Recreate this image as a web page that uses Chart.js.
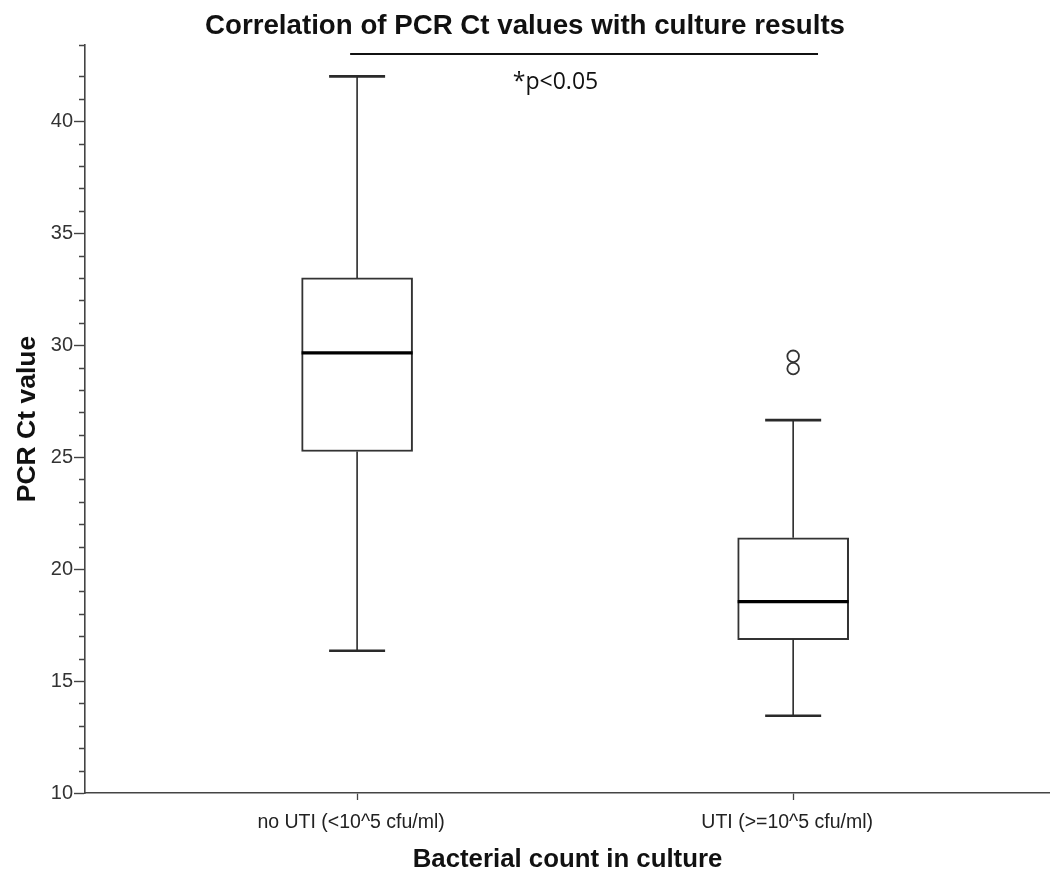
<!DOCTYPE html>
<html>
<head>
<meta charset="utf-8">
<script src="https://cdn.jsdelivr.net/npm/chart.js@4/dist/chart.umd.min.js"></script>
<style>
html,body{margin:0;padding:0;background:#fff;}
#wrap{width:1050px;height:872px;}
</style>
</head>
<body>
<div id="wrap"><canvas id="c" width="1050" height="872"></canvas></div>
<script>
// ---- data ----
const categories = ['no UTI (<10^5 cfu/ml)', 'UTI (>=10^5 cfu/ml)'];
const whiskerLow = [16.35, 13.45];
const q1Values   = [25.25, 16.85];
const medians    = [29.65, 18.55];
const q3Values   = [33.0, 21.4];
const whiskerHigh= [42.0, 26.65];
const outlierX   = [1, 1];
const outlierY   = [29.5, 28.95];
const yTickLabels = [10, 15, 20, 25, 30, 35, 40];
const sigLabel = '*p<0.05';
const sigLine = {x1: -0.016, x2: 1.057, y: 43.0};
const sigText = {x: 0.455, y: 41.75};

const FONT = "'Liberation Sans Narrow','Arial Narrow','Liberation Sans',Arial,sans-serif";
const LINE = '#2a2a2a';

const boxPlugin = {
  id: 'boxPlugin',
  afterDatasetsDraw(chart) {
    const {ctx, scales: {x, y}} = chart;
    ctx.save();
    // minor y ticks
    ctx.strokeStyle = '#444';
    ctx.lineWidth = 1.4;
    ctx.beginPath();
    y.ticks.forEach(t => {
      if (!yTickLabels.includes(t.value)) {
        const py = Math.round(y.getPixelForValue(t.value)) + 0.5;
        ctx.moveTo(y.right - 6, py);
        ctx.lineTo(y.right, py);
      }
    });
    ctx.stroke();
    ctx.strokeStyle = LINE;
    for (let i = 0; i < categories.length; i++) {
      const cx = x.getPixelForValue(i);
      const capHalf = 28;
      ctx.lineWidth = 1.6;
      ctx.beginPath();
      ctx.moveTo(cx, y.getPixelForValue(q3Values[i]));
      ctx.lineTo(cx, y.getPixelForValue(whiskerHigh[i]));
      ctx.moveTo(cx, y.getPixelForValue(q1Values[i]));
      ctx.lineTo(cx, y.getPixelForValue(whiskerLow[i]));
      ctx.stroke();
      ctx.lineWidth = 2.6;
      ctx.beginPath();
      ctx.moveTo(cx - capHalf, y.getPixelForValue(whiskerHigh[i]));
      ctx.lineTo(cx + capHalf, y.getPixelForValue(whiskerHigh[i]));
      ctx.moveTo(cx - capHalf, y.getPixelForValue(whiskerLow[i]));
      ctx.lineTo(cx + capHalf, y.getPixelForValue(whiskerLow[i]));
      ctx.stroke();
      const meta = chart.getDatasetMeta(0).data[i];
      const half = meta.width / 2;
      ctx.strokeStyle = '#000';
      ctx.lineWidth = 3.2;
      ctx.beginPath();
      ctx.moveTo(cx - half, y.getPixelForValue(medians[i]));
      ctx.lineTo(cx + half, y.getPixelForValue(medians[i]));
      ctx.stroke();
      ctx.strokeStyle = LINE;
    }
    ctx.lineWidth = 1.8;
    ctx.strokeStyle = '#111';
    ctx.beginPath();
    ctx.moveTo(x.getPixelForValue(sigLine.x1), y.getPixelForValue(sigLine.y));
    ctx.lineTo(x.getPixelForValue(sigLine.x2), y.getPixelForValue(sigLine.y));
    ctx.stroke();
    ctx.fillStyle = '#111';
    ctx.font = "23px 'Open Sans','Noto Sans',sans-serif";
    ctx.textAlign = 'center';
    ctx.textBaseline = 'middle';
    ctx.fillText(sigLabel, x.getPixelForValue(sigText.x), y.getPixelForValue(sigText.y));
    ctx.restore();
  }
};

new Chart(document.getElementById('c'), {
  data: {
    datasets: [
      {
        type: 'bar',
        data: categories.map((c, i) => ({x: i, y: [q1Values[i], q3Values[i]]})),
        backgroundColor: '#ffffff',
        borderColor: '#333',
        borderWidth: 2,
        borderSkipped: false,
        barThickness: 111,
        order: 2
      },
      {
        type: 'scatter',
        data: outlierX.map((v, i) => ({x: v, y: outlierY[i]})),
        pointStyle: 'circle',
        pointRadius: 5.8,
        pointBorderWidth: 1.8,
        pointBackgroundColor: 'rgba(255,255,255,0)',
        pointBorderColor: '#333',
        order: 1
      }
    ]
  },
  options: {
    responsive: false,
    animation: false,
    layout: {autoPadding: false, padding: {left: 0, right: 0, top: 0, bottom: 0}},
    plugins: {
      legend: {display: false},
      tooltip: {enabled: false},
      title: {
        display: true,
        text: 'Correlation of PCR Ct values with culture results',
        color: '#111',
        font: {family: FONT, size: 27.7, weight: 'bold', lineHeight: 1.2},
        padding: {top: 10, bottom: 1.8}
      }
    },
    scales: {
      x: {
        type: 'linear',
        min: -0.624,
        max: 1.589,
        offset: false,
        afterBuildTicks(scale) { scale.ticks = [{value: 0}, {value: 1}]; },
        afterFit(scale) {
          scale.height = 79;
          scale.paddingLeft = 0; scale.paddingRight = 0;
        },
        ticks: {
          callback: (v, i) => categories[i],
          color: '#222',
          font: {family: FONT, size: 19.5},
          padding: 11,
          labelOffset: -6,
          maxRotation: 0,
          autoSkip: false
        },
        grid: {offset: false, drawOnChartArea: false, drawTicks: true, tickLength: 7, color: '#444', tickWidth: 1.3},
        border: {display: true, color: '#444', width: 1.6},
        title: {
          display: true,
          text: 'Bacterial count in culture',
          color: '#111',
          font: {family: FONT, size: 25.8, weight: 'bold', lineHeight: 1.2},
          padding: {top: 0, bottom: -3}
        }
      },
      y: {
        type: 'linear',
        min: 10,
        max: 43.4,
        afterFit(scale) {
          scale.width = 85;
          scale.paddingLeft = 0; scale.paddingRight = 0;
        },
        ticks: {
          stepSize: 1,
          autoSkip: false,
          callback: (v) => yTickLabels.includes(v) ? String(v) : '',
          color: '#333',
          font: {family: "'Liberation Sans',Arial,sans-serif", size: 20},
          padding: 1
        },
        grid: {
          drawOnChartArea: false, drawTicks: true, tickLength: 11, tickWidth: 1.4,
          color: '#444',
          tickColor: (c) => (c.tick && yTickLabels.includes(c.tick.value)) ? '#444' : 'rgba(0,0,0,0)'
        },
        border: {display: true, color: '#444', width: 1.6},
        title: {
          display: true,
          text: 'PCR Ct value',
          color: '#111',
          font: {family: FONT, size: 26.5, weight: 'bold', lineHeight: 1.2},
          padding: {top: 12, bottom: 0}
        }
      }
    }
  },
  plugins: [boxPlugin]
});
</script>
</body>
</html>
